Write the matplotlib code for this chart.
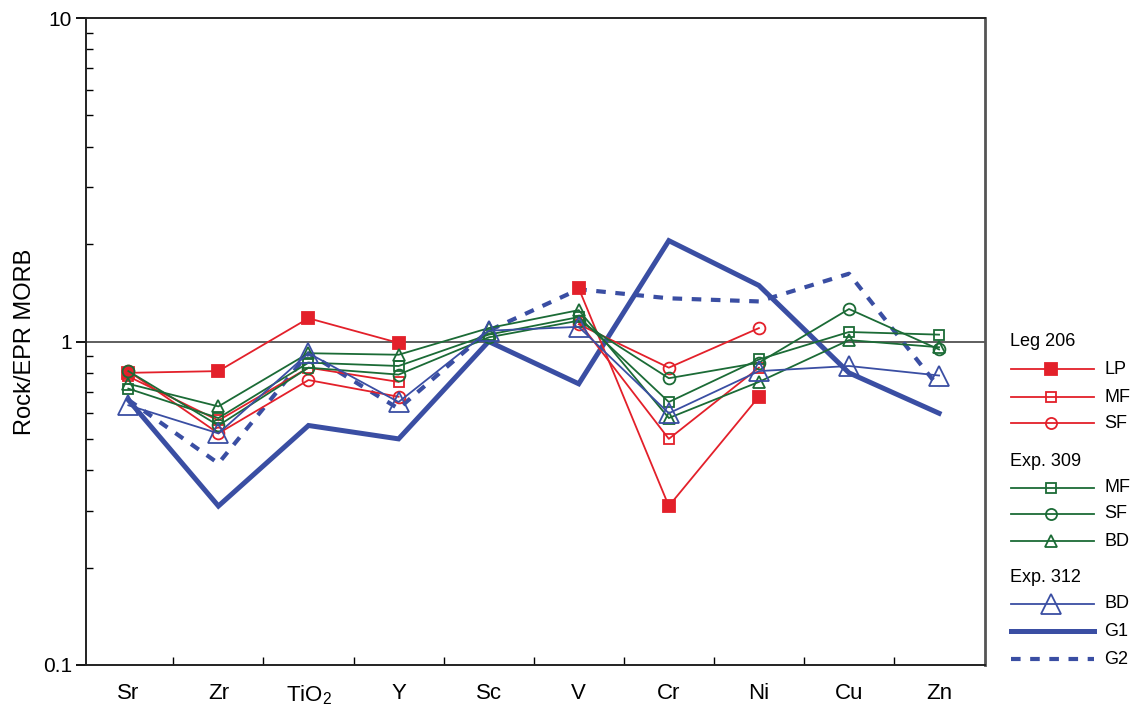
import numpy as np
import matplotlib
matplotlib.use("Agg")
import matplotlib.pyplot as plt
from matplotlib.lines import Line2D
from matplotlib.ticker import FixedLocator, NullFormatter

plt.rcParams['font.family'] = ['Liberation Sans', 'DejaVu Sans']
plt.rcParams['mathtext.fontset'] = 'custom'
plt.rcParams['mathtext.rm'] = 'Liberation Sans'
plt.rcParams['mathtext.it'] = 'Liberation Sans'

nan = np.nan
elements = ['Sr', 'Zr', 'TiO$_2$', 'Y', 'Sc', 'V', 'Cr', 'Ni', 'Cu', 'Zn']

# Leg 206
leg206_lp = [0.80, 0.81, 1.18, 0.99, nan, 1.46, 0.31, 0.675, nan, nan]
leg206_mf = [0.78, 0.57, 0.83, 0.75, nan, 1.15, 0.50, 0.83, nan, nan]
leg206_sf = [0.81, 0.52, 0.76, 0.675, nan, 1.13, 0.83, 1.10, nan, nan]
# Exp. 309
exp309_mf = [0.715, 0.58, 0.86, 0.84, 1.05, 1.19, 0.65, 0.88, 1.07, 1.05]
exp309_sf = [0.81, 0.55, 0.83, 0.79, 1.03, 1.16, 0.77, 0.86, 1.26, 0.945]
exp309_bd = [0.74, 0.63, 0.92, 0.91, 1.10, 1.25, 0.58, 0.75, 1.01, 0.96]
# Exp. 312
exp312_bd = [0.635, 0.52, 0.92, 0.65, 1.08, 1.11, 0.60, 0.81, 0.84, 0.785]
g1 = [0.66, 0.31, 0.55, 0.50, 1.00, 0.74, 2.05, 1.49, 0.80, 0.60]
g2 = [0.66, 0.42, 0.92, 0.62, 1.08, 1.45, 1.36, 1.33, 1.62, 0.72]

red = '#e3202a'
green = '#1b6b36'
blue = '#3a4ea3'

W, H = 1136, 710
fig = plt.figure(figsize=(W / 100, H / 100), dpi=100)
ax = fig.add_axes([86 / W, 1 - 665 / H, (985 - 86) / W, (665 - 18) / H])

x = np.arange(len(elements))

ax.axhline(1, color='#333333', lw=1.1, zorder=1)

ax.plot(x, g1, color=blue, lw=3.6, solid_joinstyle='miter', zorder=2)
ax.plot(x, g2, color=blue, lw=3.0, dashes=(2.3, 2.3), zorder=2)

thin = dict(lw=1.3, mew=1.3)
ax.plot(x, leg206_lp, color=red, marker='s', ms=9, mfc=red, **thin, zorder=3)
ax.plot(x, leg206_mf, color=red, marker='s', ms=7.5, mfc='none', **thin, zorder=3)
ax.plot(x, leg206_sf, color=red, marker='o', ms=8.5, mfc='none', **thin, zorder=3)
ax.plot(x, exp309_mf, color=green, marker='s', ms=7.5, mfc='none', **thin, zorder=3)
ax.plot(x, exp309_sf, color=green, marker='o', ms=8.5, mfc='none', **thin, zorder=3)
ax.plot(x, exp309_bd, color=green, marker='^', ms=9, mfc='none', **thin, zorder=3)
ax.plot(x, exp312_bd, color=blue, marker='^', ms=14, mfc='none', **thin, zorder=3)

ax.set_yscale('log')
ax.set_ylim(0.1, 10)
ax.set_xlim(-0.47, 9.51)

ax.yaxis.set_major_locator(FixedLocator([0.1, 1, 10]))
ax.set_yticklabels(['0.1', '1', '10'])
ax.yaxis.set_minor_locator(FixedLocator([m * d for d in (0.1, 1) for m in range(2, 10)]))
ax.yaxis.set_minor_formatter(NullFormatter())
ax.tick_params(axis='y', which='major', direction='out', length=7, width=1.3, labelsize=15, pad=3)
ax.tick_params(axis='y', which='minor', direction='in', length=5, width=1.0)

ax.set_xticks(x)
ax.set_xticklabels(elements)
ax.set_xticks(np.arange(0.5, 9.0, 1.0), minor=True)
ax.tick_params(axis='x', which='major', length=0, labelsize=16, pad=13)
ax.tick_params(axis='x', which='minor', direction='in', length=6, width=1.0)

for s in ax.spines.values():
    s.set_linewidth(1.4)
    s.set_color('#222222')
ax.spines['right'].set_color('#555555')
ax.spines['right'].set_linewidth(2)

ax.set_ylabel('Rock/EPR MORB', fontsize=17, labelpad=5)


# legend drawn at pixel positions on the right
def fx(px):
    return px / W


def fy(py):
    return 1 - py / H


def legend_row(py, label, color, lw=1.3, marker=None, ms=8, mfc='none', dashes=None):
    line = Line2D([fx(1011), fx(1094)], [fy(py), fy(py)], transform=fig.transFigure,
                  color=color, lw=lw)
    if dashes:
        line.set_dashes(dashes)
    fig.add_artist(line)
    if marker:
        fig.add_artist(Line2D([fx(1051)], [fy(py)], transform=fig.transFigure, ls='none',
                              color=color, marker=marker, ms=ms, mfc=mfc, mew=1.3))
    fig.text(fx(1104), fy(py), label, fontsize=13, va='center', ha='left')


def heading(py, text):
    fig.text(fx(1010), fy(py), text, fontsize=13, va='center', ha='left')


heading(342, 'Leg 206')
legend_row(369, 'LP', red, marker='s', ms=9, mfc=red)
legend_row(397, 'MF', red, marker='s', ms=7)
legend_row(423, 'SF', red, marker='o', ms=8)
heading(461, 'Exp. 309')
legend_row(488, 'MF', green, marker='s', ms=7)
legend_row(514, 'SF', green, marker='o', ms=8)
legend_row(541, 'BD', green, marker='^', ms=9)
heading(578, 'Exp. 312')
legend_row(604, 'BD', blue, marker='^', ms=14)
legend_row(631, 'G1', blue, lw=3.6)
legend_row(659, 'G2', blue, lw=3.0, dashes=(2.3, 2.3))

fig.savefig('out.png', dpi=100)
